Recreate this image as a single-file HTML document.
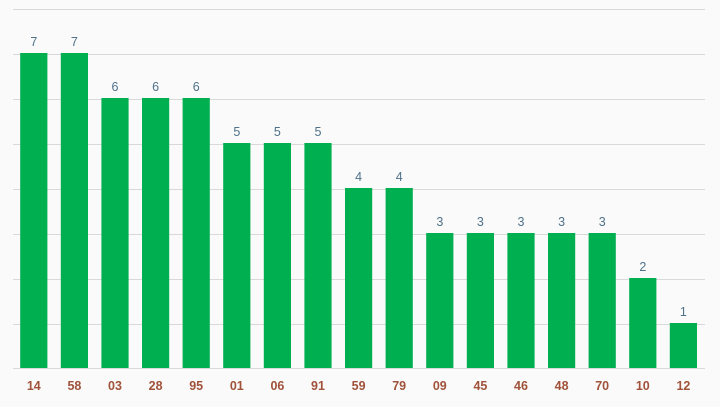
<!DOCTYPE html>
<html><head><style>
body{margin:0;background:#fafafa;}
svg{display:block;}
</style></head><body>
<svg width="720" height="407" xmlns="http://www.w3.org/2000/svg">
<rect width="720" height="407" fill="#fafafa"/>
<g stroke="#d9d9d9" stroke-width="1">
<line x1="13" x2="705" y1="9.5" y2="9.5"/>
<line x1="13" x2="705" y1="54.5" y2="54.5"/>
<line x1="13" x2="705" y1="99.5" y2="99.5"/>
<line x1="13" x2="705" y1="144.5" y2="144.5"/>
<line x1="13" x2="705" y1="189.5" y2="189.5"/>
<line x1="13" x2="705" y1="234.5" y2="234.5"/>
<line x1="13" x2="705" y1="279.5" y2="279.5"/>
<line x1="13" x2="705" y1="324.5" y2="324.5"/>
<line x1="13" x2="705" y1="368.5" y2="368.5"/>
</g>
<g fill="#00af50">
<rect x="20.2" y="53" width="27.2" height="315"/>
<rect x="60.8" y="53" width="27.2" height="315"/>
<rect x="101.4" y="98" width="27.2" height="270"/>
<rect x="142" y="98" width="27.2" height="270"/>
<rect x="182.6" y="98" width="27.2" height="270"/>
<rect x="223.2" y="143" width="27.2" height="225"/>
<rect x="263.8" y="143" width="27.2" height="225"/>
<rect x="304.4" y="143" width="27.2" height="225"/>
<rect x="345" y="188" width="27.2" height="180"/>
<rect x="385.6" y="188" width="27.2" height="180"/>
<rect x="426.2" y="233" width="27.2" height="135"/>
<rect x="466.8" y="233" width="27.2" height="135"/>
<rect x="507.4" y="233" width="27.2" height="135"/>
<rect x="548" y="233" width="27.2" height="135"/>
<rect x="588.6" y="233" width="27.2" height="135"/>
<rect x="629.2" y="278" width="27.2" height="90"/>
<rect x="669.8" y="323" width="27.2" height="45"/>
</g>
<g font-family="Liberation Sans, sans-serif" font-size="12.5" text-anchor="middle" fill="#4f7189">
<text x="33.8" y="46">7</text>
<text x="74.4" y="46">7</text>
<text x="115" y="91">6</text>
<text x="155.6" y="91">6</text>
<text x="196.2" y="91">6</text>
<text x="236.8" y="136">5</text>
<text x="277.4" y="136">5</text>
<text x="318" y="136">5</text>
<text x="358.6" y="181">4</text>
<text x="399.2" y="181">4</text>
<text x="439.8" y="226">3</text>
<text x="480.4" y="226">3</text>
<text x="521" y="226">3</text>
<text x="561.6" y="226">3</text>
<text x="602.2" y="226">3</text>
<text x="642.8" y="271">2</text>
<text x="683.4" y="316">1</text>
</g>
<g font-family="Liberation Sans, sans-serif" font-size="12.5" font-weight="bold" text-anchor="middle" fill="#a0523a">
<text x="33.8" y="390">14</text>
<text x="74.4" y="390">58</text>
<text x="115" y="390">03</text>
<text x="155.6" y="390">28</text>
<text x="196.2" y="390">95</text>
<text x="236.8" y="390">01</text>
<text x="277.4" y="390">06</text>
<text x="318" y="390">91</text>
<text x="358.6" y="390">59</text>
<text x="399.2" y="390">79</text>
<text x="439.8" y="390">09</text>
<text x="480.4" y="390">45</text>
<text x="521" y="390">46</text>
<text x="561.6" y="390">48</text>
<text x="602.2" y="390">70</text>
<text x="642.8" y="390">10</text>
<text x="683.4" y="390">12</text>
</g>
</svg>
</body></html>
